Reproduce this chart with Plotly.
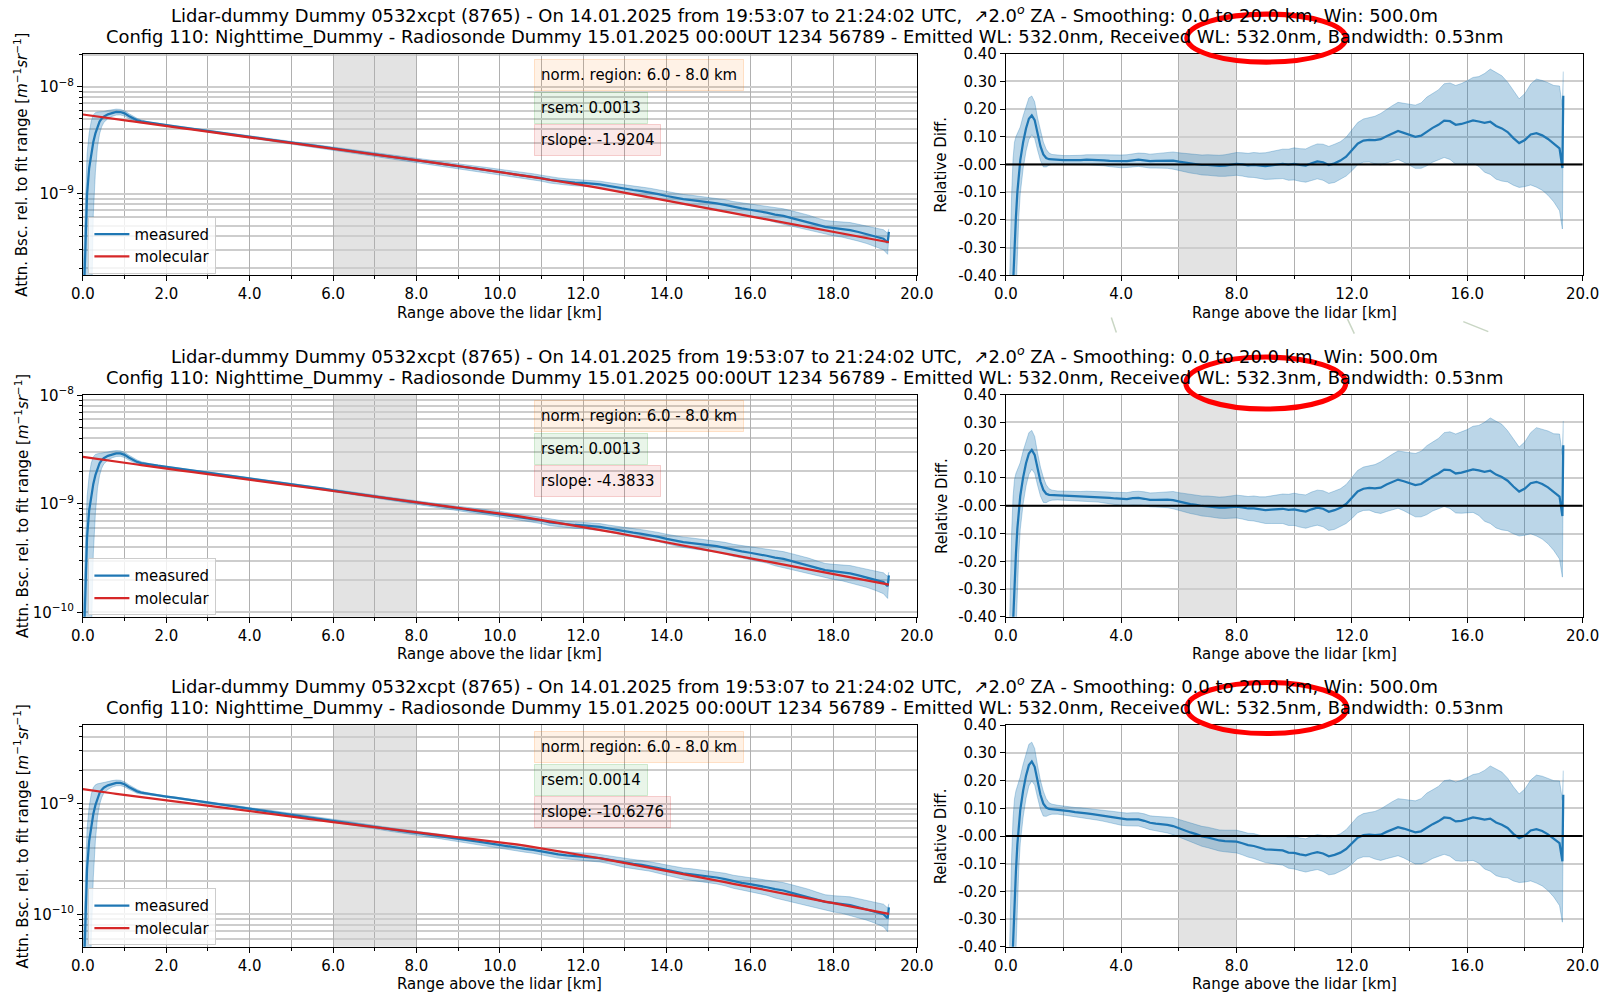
import numpy as np
import plotly.graph_objects as go

# ---------------------------------------------------------------------------
# Data: range grid [km], molecular attenuated backscatter (log10) for the three
# receiver wavelengths, relative difference measured/molecular - 1 and its error
# ---------------------------------------------------------------------------
RANGE_KM = [
    0.0, 0.05, 0.1, 0.15, 0.2, 0.25, 0.3, 0.35, 0.4, 0.45, 0.5,
    0.6, 0.7, 0.8, 0.9, 1.0, 1.1, 1.2, 1.3, 1.4, 1.5, 1.6,
    1.8, 2.0, 2.2, 2.4, 2.6, 2.8, 3.0, 3.2, 3.4, 3.6, 3.8, 4.0, 4.2, 4.4, 4.6, 4.8,
    5.0, 5.2, 5.4, 5.6, 5.8, 6.0, 6.2, 6.4, 6.6, 6.8, 7.0, 7.2, 7.4, 7.6, 7.8,
    8.0, 8.2, 8.4, 8.6, 8.8, 9.0, 9.2, 9.4, 9.6, 9.8, 10.0, 10.2, 10.4, 10.6, 10.8,
    11.0, 11.2, 11.4, 11.6, 11.8, 12.0, 12.2, 12.4, 12.6, 12.8, 13.0, 13.2, 13.4, 13.6, 13.8,
    14.0, 14.2, 14.4, 14.6, 14.8, 15.0, 15.2, 15.4, 15.6, 15.8, 16.0, 16.2, 16.4, 16.6, 16.8,
    17.0, 17.2, 17.4, 17.6, 17.8, 18.0, 18.2, 18.4, 18.6, 18.8, 19.0, 19.2, 19.3, 19.33,
]

MOL_LOG10_532_0 = [
    -8.259, -8.262, -8.264, -8.267, -8.270, -8.272, -8.275, -8.278, -8.280, -8.283, -8.286,
    -8.291, -8.297, -8.302, -8.307, -8.313, -8.318, -8.323, -8.329, -8.334, -8.339, -8.345,
    -8.355, -8.366, -8.377, -8.388, -8.398, -8.409, -8.420, -8.431, -8.441, -8.452, -8.463, -8.473, -8.484, -8.495, -8.506, -8.516,
    -8.527, -8.538, -8.548, -8.559, -8.570, -8.581, -8.591, -8.602, -8.613, -8.623, -8.634, -8.645, -8.656, -8.666, -8.677,
    -8.688, -8.699, -8.709, -8.720, -8.731, -8.741, -8.752, -8.763, -8.774, -8.784, -8.795, -8.808, -8.820, -8.833, -8.845,
    -8.858, -8.870, -8.883, -8.895, -8.908, -8.920, -8.935, -8.949, -8.964, -8.978, -8.993, -9.008, -9.022, -9.037, -9.051,
    -9.066, -9.081, -9.095, -9.110, -9.124, -9.139, -9.154, -9.168, -9.183, -9.197, -9.212, -9.227, -9.241, -9.256, -9.270,
    -9.285, -9.300, -9.314, -9.329, -9.343, -9.358, -9.373, -9.387, -9.402, -9.416, -9.431, -9.446, -9.453, -9.455,
]

MOL_LOG10_532_3 = [
    -8.568, -8.571, -8.573, -8.576, -8.579, -8.581, -8.584, -8.587, -8.589, -8.592, -8.595,
    -8.600, -8.606, -8.611, -8.616, -8.622, -8.627, -8.632, -8.638, -8.643, -8.649, -8.654,
    -8.665, -8.675, -8.685, -8.696, -8.706, -8.716, -8.727, -8.737, -8.748, -8.758, -8.768, -8.779, -8.789, -8.799, -8.810, -8.820,
    -8.831, -8.841, -8.851, -8.862, -8.872, -8.883, -8.893, -8.903, -8.914, -8.924, -8.934, -8.945, -8.955, -8.965, -8.976,
    -8.986, -8.996, -9.006, -9.017, -9.027, -9.037, -9.047, -9.057, -9.068, -9.078, -9.088, -9.100, -9.112, -9.125, -9.137,
    -9.149, -9.161, -9.173, -9.186, -9.198, -9.210, -9.225, -9.239, -9.254, -9.268, -9.283, -9.298, -9.312, -9.327, -9.341,
    -9.356, -9.371, -9.385, -9.400, -9.414, -9.429, -9.444, -9.458, -9.473, -9.487, -9.502, -9.517, -9.531, -9.546, -9.560,
    -9.575, -9.590, -9.604, -9.619, -9.633, -9.648, -9.663, -9.677, -9.692, -9.706, -9.721, -9.736, -9.743, -9.745,
]

MOL_LOG10_532_5 = [
    -8.870, -8.873, -8.875, -8.878, -8.881, -8.883, -8.886, -8.888, -8.891, -8.894, -8.896,
    -8.902, -8.907, -8.912, -8.917, -8.923, -8.928, -8.933, -8.938, -8.944, -8.949, -8.954,
    -8.965, -8.975, -8.985, -8.994, -9.004, -9.014, -9.024, -9.033, -9.043, -9.053, -9.062, -9.072, -9.082, -9.091, -9.101, -9.110,
    -9.120, -9.129, -9.139, -9.148, -9.158, -9.167, -9.176, -9.185, -9.194, -9.203, -9.212, -9.220, -9.229, -9.238, -9.247,
    -9.256, -9.265, -9.274, -9.283, -9.292, -9.301, -9.309, -9.318, -9.327, -9.336, -9.345, -9.357, -9.369, -9.381, -9.393,
    -9.405, -9.417, -9.429, -9.441, -9.453, -9.465, -9.479, -9.494, -9.508, -9.522, -9.537, -9.551, -9.565, -9.579, -9.594,
    -9.608, -9.623, -9.637, -9.652, -9.666, -9.681, -9.696, -9.710, -9.725, -9.739, -9.754, -9.769, -9.783, -9.798, -9.812,
    -9.827, -9.842, -9.856, -9.871, -9.885, -9.900, -9.915, -9.929, -9.944, -9.958, -9.973, -9.988, -9.995, -9.997,
]

REL_DIFF_532_0 = [
    -0.990, -0.950, -0.820, -0.680, -0.550, -0.430, -0.310, -0.190, -0.100, -0.035, 0.015,
    0.080, 0.130, 0.165, 0.177, 0.160, 0.110, 0.066, 0.036, 0.023, 0.019, 0.018,
    0.017, 0.016, 0.016, 0.015, 0.016, 0.017, 0.017, 0.016, 0.015, 0.013, 0.012, 0.011, 0.012, 0.015, 0.017, 0.015,
    0.012, 0.013, 0.014, 0.015, 0.014, 0.010, 0.007, 0.003, 0.001, -0.002, -0.002, -0.004, -0.005, -0.004, -0.001,
    0.002, 0.000, -0.003, -0.002, -0.005, -0.006, -0.003, 0.000, 0.002, -0.001, 0.002, -0.002, -0.004, 0.004, 0.011,
    0.008, -0.002, 0.004, 0.014, 0.028, 0.050, 0.075, 0.086, 0.089, 0.088, 0.091, 0.102, 0.112, 0.121, 0.114,
    0.107, 0.100, 0.104, 0.119, 0.132, 0.143, 0.158, 0.156, 0.143, 0.146, 0.152, 0.159, 0.155, 0.150, 0.154,
    0.139, 0.130, 0.117, 0.095, 0.077, 0.088, 0.108, 0.113, 0.105, 0.092, 0.075, 0.058, -0.013, 0.248,
]

REL_DIFF_532_3 = [
    -0.990, -0.949, -0.816, -0.674, -0.541, -0.419, -0.296, -0.174, -0.082, -0.016, 0.035,
    0.102, 0.153, 0.188, 0.201, 0.183, 0.132, 0.087, 0.057, 0.043, 0.039, 0.038,
    0.037, 0.036, 0.035, 0.034, 0.034, 0.034, 0.033, 0.032, 0.030, 0.028, 0.026, 0.024, 0.024, 0.027, 0.028, 0.025,
    0.021, 0.021, 0.022, 0.022, 0.020, 0.015, 0.011, 0.006, 0.003, -0.001, -0.002, -0.005, -0.007, -0.007, -0.005,
    -0.003, -0.006, -0.010, -0.010, -0.014, -0.016, -0.014, -0.012, -0.011, -0.015, -0.013, -0.018, -0.021, -0.013, -0.007,
    -0.011, -0.022, -0.016, -0.007, 0.006, 0.027, 0.051, 0.061, 0.064, 0.062, 0.065, 0.076, 0.085, 0.094, 0.088,
    0.080, 0.074, 0.078, 0.092, 0.105, 0.116, 0.130, 0.128, 0.116, 0.119, 0.124, 0.131, 0.127, 0.122, 0.126,
    0.112, 0.103, 0.090, 0.069, 0.051, 0.062, 0.081, 0.086, 0.078, 0.066, 0.049, 0.033, -0.037, 0.218,
]

REL_DIFF_532_5 = [
    -0.989, -0.946, -0.806, -0.655, -0.515, -0.386, -0.256, -0.127, -0.030, 0.040, 0.094,
    0.164, 0.218, 0.256, 0.269, 0.250, 0.197, 0.149, 0.117, 0.103, 0.098, 0.097,
    0.095, 0.092, 0.090, 0.086, 0.085, 0.082, 0.079, 0.076, 0.073, 0.069, 0.066, 0.062, 0.060, 0.060, 0.060, 0.055,
    0.048, 0.045, 0.043, 0.040, 0.036, 0.028, 0.021, 0.013, 0.007, -0.001, -0.005, -0.011, -0.016, -0.018, -0.019,
    -0.020, -0.026, -0.033, -0.036, -0.043, -0.048, -0.049, -0.050, -0.052, -0.060, -0.061, -0.066, -0.070, -0.063, -0.058,
    -0.063, -0.073, -0.068, -0.060, -0.047, -0.028, -0.006, 0.003, 0.005, 0.003, 0.005, 0.015, 0.024, 0.032, 0.027,
    0.020, 0.013, 0.017, 0.031, 0.043, 0.053, 0.067, 0.065, 0.053, 0.055, 0.061, 0.067, 0.064, 0.059, 0.063,
    0.049, 0.041, 0.029, 0.008, -0.008, 0.002, 0.020, 0.025, 0.018, 0.006, -0.010, -0.026, -0.091, 0.149,
]

REL_ERR = [
    0.020, 0.080, 0.250, 0.360, 0.440, 0.450, 0.390, 0.290, 0.210, 0.155, 0.120,
    0.095, 0.082, 0.075, 0.070, 0.066, 0.058, 0.052, 0.045, 0.032, 0.022, 0.018,
    0.016, 0.016, 0.016, 0.017, 0.017, 0.018, 0.019, 0.019, 0.020, 0.021, 0.022, 0.023, 0.023, 0.024, 0.024, 0.025,
    0.025, 0.026, 0.027, 0.029, 0.031, 0.032, 0.033, 0.034, 0.035, 0.036, 0.037, 0.038, 0.038, 0.039, 0.040,
    0.041, 0.042, 0.043, 0.045, 0.046, 0.048, 0.050, 0.051, 0.053, 0.056, 0.058, 0.059, 0.060, 0.062, 0.063,
    0.065, 0.067, 0.069, 0.068, 0.070, 0.073, 0.076, 0.078, 0.080, 0.086, 0.093, 0.097, 0.100, 0.103, 0.106,
    0.110, 0.114, 0.118, 0.124, 0.124, 0.126, 0.133, 0.138, 0.142, 0.146, 0.150, 0.155, 0.162, 0.178, 0.190,
    0.192, 0.190, 0.180, 0.170, 0.160, 0.168, 0.182, 0.195, 0.198, 0.203, 0.210, 0.225, 0.220, 0.087,
]

RECEIVED_WL = ["532.0", "532.3", "532.5"]
RSEM = ["0.0013", "0.0013", "0.0014"]
RSLOPE = ["-1.9204", "-4.3833", "-10.6276"]
MOL_LOG10 = [MOL_LOG10_532_0, MOL_LOG10_532_3, MOL_LOG10_532_5]
REL_DIFF = [REL_DIFF_532_0, REL_DIFF_532_3, REL_DIFF_532_5]

NORM_REGION = (6.0, 8.0)
REL_TICKS = [-0.4, -0.3, -0.2, -0.1, 0.0, 0.1, 0.2, 0.3, 0.4]
REL_TICKTEXT = ["-0.40", "-0.30", "-0.20", "-0.10", "-0.00", "0.10", "0.20", "0.30", "0.40"]

for arr in MOL_LOG10 + REL_DIFF + [REL_ERR]:
    assert len(arr) == len(RANGE_KM), len(arr)

# ---------------------------------------------------------------------------
# Layout geometry, given in page pixels and converted to paper fractions.
# The figure is drawn with a small inset and scale on the page, so the
# helpers below take that into account.
# ---------------------------------------------------------------------------
W, H = 1605, 996
SX, OX = 0.982, 10.6
SY, OY = 0.981, 10.4
K = 1.0 / SX  # size factor for fonts and strokes

FONT = "DejaVu Sans"
FS = 14.7 * K
TITLE_FS = 17.6 * K

LEFT_X = (81.5, 915.5)
RIGHT_X = (1004.5, 1581.3)
ROW_TOP = [54.0, 395.0, 725.7]
ROW_BOTTOM = [275.7, 617.3, 947.3]
TITLE_Y = [(14.2, 37.0), (355.2, 378.7), (685.2, 708.7)]
LOG_RANGE = [[-9.764, -7.689], [-10.042, -7.9935], [-10.294, -8.293]]
ELLIPSES = [(1185.5, 14.5, 1344.5, 62.5), (1184.5, 357.5, 1344.5, 409.5), (1185.5, 683.0, 1345.5, 734.0)]
STROKES = [((1110, 318), (1115, 333)), ((1346, 319), (1353, 334)), ((1462, 322), (1487, 332))]

BLUE = "#1f77b4"
RED = "#d62728"
BAND = "rgba(31,119,180,0.3)"
VGRID = "#b0b0b0"
HGRID = "#cdcdcd"


def px(x):
    return ((x - OX) / SX) / W


def py(y):
    return 1 - ((y - OY) / SY) / H


def suffix(n):
    return "" if n == 1 else str(n)


fig = go.Figure()
shapes = []
annotations = []
layout_axes = {}

x_arr = np.array(RANGE_KM)
err = np.array(REL_ERR)

decades = [10.0 ** e for e in range(-11, -6)]
decade_text = ["10<sup>\u2212%d</sup>" % (-e) for e in range(-11, -6)]
minor_vals = [k * 10.0 ** e for e in range(-11, -6) for k in range(2, 10)]

axis_font = dict(family=FONT, size=FS, color="black")
LW = 2.2 * K

for r in range(3):
    nl, nr = 2 * r + 1, 2 * r + 2
    xl, yl, xr, yr = "x" + suffix(nl), "y" + suffix(nl), "x" + suffix(nr), "y" + suffix(nr)
    legend_name = "legend" + suffix(r + 1)

    mol = 10.0 ** np.array(MOL_LOG10[r])
    rel = np.array(REL_DIFF[r])
    meas = mol * (1 + rel)
    meas_lo = mol * np.clip(1 + rel - err, 1e-4, None)
    meas_hi = mol * (1 + rel + err)

    # --- left panel: attenuated backscatter (log) ---
    fig.add_trace(go.Scatter(x=x_arr, y=meas_lo, mode="lines", line=dict(color=BAND, width=1),
                             xaxis=xl, yaxis=yl, showlegend=False, hoverinfo="skip"))
    fig.add_trace(go.Scatter(x=x_arr, y=meas_hi, mode="lines", line=dict(color=BAND, width=1),
                             fill="tonexty", fillcolor=BAND,
                             xaxis=xl, yaxis=yl, showlegend=False, hoverinfo="skip"))
    fig.add_trace(go.Scatter(x=x_arr, y=meas, mode="lines", name="measured",
                             line=dict(color=BLUE, width=LW), xaxis=xl, yaxis=yl,
                             legend=legend_name))
    fig.add_trace(go.Scatter(x=x_arr, y=mol, mode="lines", name="molecular",
                             line=dict(color=RED, width=LW), xaxis=xl, yaxis=yl,
                             legend=legend_name))

    # --- right panel: relative difference ---
    fig.add_trace(go.Scatter(x=x_arr, y=rel - err, mode="lines", line=dict(color=BAND, width=1),
                             xaxis=xr, yaxis=yr, showlegend=False, hoverinfo="skip"))
    fig.add_trace(go.Scatter(x=x_arr, y=rel + err, mode="lines", line=dict(color=BAND, width=1),
                             fill="tonexty", fillcolor=BAND,
                             xaxis=xr, yaxis=yr, showlegend=False, hoverinfo="skip"))
    fig.add_trace(go.Scatter(x=x_arr, y=rel, mode="lines", line=dict(color=BLUE, width=LW),
                             xaxis=xr, yaxis=yr, showlegend=False))

    ydom = [py(ROW_BOTTOM[r]), py(ROW_TOP[r])]
    frame = dict(showline=True, linecolor="black", linewidth=1, mirror=True,
                 ticks="outside", tickcolor="black", tickwidth=1, ticklen=5,
                 tickfont=axis_font, zeroline=False)

    layout_axes["xaxis" + suffix(nl)] = dict(
        domain=[px(LEFT_X[0]), px(LEFT_X[1])], anchor=yl, range=[0, 20],
        tickmode="linear", tick0=0, dtick=2, tickformat=".1f",
        showgrid=True, gridcolor=VGRID, gridwidth=1,
        minor=dict(dtick=1, tick0=0, ticks="outside", ticklen=3, tickcolor="black",
                   showgrid=True, gridcolor=VGRID, gridwidth=1),
        **frame)
    layout_axes["yaxis" + suffix(nl)] = dict(
        domain=ydom, anchor=xl, type="log", range=LOG_RANGE[r],
        tickmode="array", tickvals=decades, ticktext=decade_text,
        showgrid=True, gridcolor=HGRID, gridwidth=2,
        minor=dict(tickmode="array", tickvals=minor_vals, ticks="outside", ticklen=3,
                   tickcolor="black", showgrid=True, gridcolor=HGRID, gridwidth=2),
        **frame)
    layout_axes["xaxis" + suffix(nr)] = dict(
        domain=[px(RIGHT_X[0]), px(RIGHT_X[1])], anchor=yr, range=[0, 20],
        tickmode="linear", tick0=0, dtick=4, tickformat=".1f",
        showgrid=True, gridcolor=VGRID, gridwidth=1,
        minor=dict(dtick=2, tick0=0, ticks="outside", ticklen=3, tickcolor="black",
                   showgrid=True, gridcolor=VGRID, gridwidth=1),
        **frame)
    layout_axes["yaxis" + suffix(nr)] = dict(
        domain=ydom, anchor=xr, range=[-0.4, 0.4],
        tickmode="array", tickvals=REL_TICKS, ticktext=REL_TICKTEXT,
        showgrid=True, gridcolor=HGRID, gridwidth=2,
        **frame)

    layout_axes[legend_name] = dict(
        x=px(87), y=py(ROW_BOTTOM[r] - 58.5), xanchor="left", yanchor="top",
        bgcolor="rgba(255,255,255,0.8)", bordercolor="#cccccc", borderwidth=1,
        font=dict(family=FONT, size=FS, color="black"), tracegroupgap=0,
        traceorder="normal", itemwidth=35)

    # normalisation region in both panels
    for xa in (xl, xr):
        shapes.append(dict(type="rect", xref=xa, yref=xa.replace("x", "y") + " domain",
                           x0=NORM_REGION[0], x1=NORM_REGION[1], y0=0, y1=1,
                           fillcolor="rgba(128,128,128,0.22)", line=dict(width=0), layer="below"))
    # zero reference of the relative difference
    shapes.append(dict(type="line", xref=xr + " domain", yref=yr, x0=0, x1=1, y0=0, y1=0,
                       line=dict(color="black", width=2 * K), layer="above"))
    # highlight of the received wavelength
    ex0, ey0, ex1, ey1 = ELLIPSES[r]
    shapes.append(dict(type="circle", xref="paper", yref="paper",
                       x0=px(ex0), x1=px(ex1), y0=py(ey1), y1=py(ey0),
                       line=dict(color="#ff0000", width=5 * K), fillcolor="rgba(0,0,0,0)", layer="above"))

    # titles
    line1 = ("Lidar-dummy Dummy 0532xcpt (8765) - On 14.01.2025 from 19:53:07 to 21:24:02 UTC, "
             "\u00a0\u21972.0<sup><i>o</i></sup> ZA - Smoothing: 0.0 to 20.0 km, Win: 500.0m")
    line2 = ("Config 110: Nighttime_Dummy - Radiosonde Dummy 15.01.2025 00:00UT 1234 56789 - "
             "Emitted WL: 532.0nm, Received WL: %snm, Bandwidth: 0.53nm" % RECEIVED_WL[r])
    for txt, yy in zip((line1, line2), TITLE_Y[r]):
        annotations.append(dict(text=txt, x=px(803), y=py(yy), xref="paper", yref="paper",
                                xanchor="center", yanchor="middle", showarrow=False,
                                font=dict(family=FONT, size=TITLE_FS, color="black")))

    # axis titles
    for cx in ((LEFT_X[0] + LEFT_X[1]) / 2, (RIGHT_X[0] + RIGHT_X[1]) / 2):
        annotations.append(dict(text="Range above the lidar [km]", x=px(cx), y=py(ROW_BOTTOM[r] + 37.5),
                                xref="paper", yref="paper", xanchor="center", yanchor="middle",
                                showarrow=False, font=axis_font))
    yc = (ROW_TOP[r] + ROW_BOTTOM[r]) / 2
    annotations.append(dict(text="Attn. Bsc. rel. to fit range [<i>m</i><sup>\u22121</sup><i>sr</i><sup>\u22121</sup>]",
                            x=px(20), y=py(yc), xref="paper", yref="paper", textangle=-90,
                            xanchor="center", yanchor="middle", showarrow=False, font=axis_font))
    annotations.append(dict(text="Relative Diff.", x=px(940), y=py(yc), xref="paper", yref="paper",
                            textangle=-90, xanchor="center", yanchor="middle", showarrow=False,
                            font=axis_font))

    # fit statistics boxes
    boxes = [("norm. region: %.1f - %.1f km" % NORM_REGION, "255,127,14", 5.5),
             ("rsem: %s" % RSEM[r], "44,160,44", 38.3),
             ("rslope: %s" % RSLOPE[r], "214,39,40", 70.5)]
    for txt, rgb, dy in boxes:
        annotations.append(dict(text=txt, x=px(533.0), y=py(ROW_TOP[r] + dy), xref="paper", yref="paper",
                                xanchor="left", yanchor="top", showarrow=False, align="left",
                                bgcolor="rgba(%s,0.1)" % rgb, bordercolor="rgba(%s,0.2)" % rgb,
                                borderwidth=1, borderpad=6, font=axis_font))

# faint strokes between the first two rows
for (sx0, sy0), (sx1, sy1) in STROKES:
    shapes.append(dict(type="line", xref="paper", yref="paper", x0=px(sx0), y0=py(sy0),
                       x1=px(sx1), y1=py(sy1), line=dict(color="#c9d6c4", width=1.5), layer="above"))

fig.update_layout(
    width=W, height=H, autosize=False,
    margin=dict(l=0, r=0, t=0, b=0),
    paper_bgcolor="white", plot_bgcolor="white",
    font=dict(family=FONT, size=FS, color="black"),
    shapes=shapes, annotations=annotations,
    hovermode=False,
    **layout_axes,
)

fig.write_html("out.html", config={"displayModeBar": False})
